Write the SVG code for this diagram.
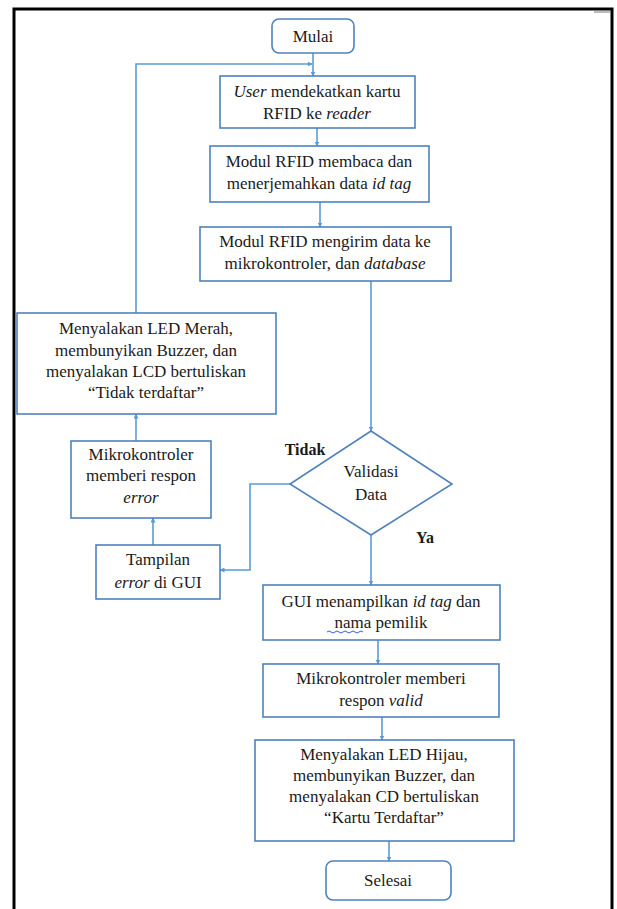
<svg xmlns="http://www.w3.org/2000/svg" width="617" height="909" viewBox="0 0 617 909">
<style>
.box{fill:#fff;stroke:#4F81BD;stroke-width:1.6}
.ln{fill:none;stroke:#5B9BD5;stroke-width:1.6}
.t{font-family:"Liberation Serif","Times New Roman",serif;font-size:17px;fill:#1a1a1a;text-anchor:middle}
.b{font-weight:bold;font-size:16px}
.i{font-style:italic}
</style>
<defs>
<marker id="ah" viewBox="0 0 10 10" refX="9" refY="5" markerWidth="5" markerHeight="5" orient="auto" markerUnits="userSpaceOnUse">
<path d="M0,0 L10,5 L0,10 z" fill="#5B9BD5"/>
</marker>
</defs>
<rect x="0" y="0" width="617" height="909" fill="#fff"/>
<path d="M14,909 V9 H612 V909" fill="none" stroke="#000" stroke-width="3"/>
<line x1="594" y1="12" x2="610" y2="12" stroke="#bbb" stroke-width="2"/>

<g id="connectors">
<line class="ln" x1="313" y1="53" x2="313" y2="76" marker-end="url(#ah)"/>
<polyline class="ln" points="136,313 136,64 312,64" marker-end="url(#ah)"/>
<line class="ln" x1="317" y1="128" x2="317" y2="146" marker-end="url(#ah)"/>
<line class="ln" x1="320" y1="202" x2="320" y2="227" marker-end="url(#ah)"/>
<line class="ln" x1="371" y1="281" x2="371" y2="431" marker-end="url(#ah)"/>
<polyline class="ln" points="290,484 250,484 250,570 220,570" marker-end="url(#ah)"/>
<line class="ln" x1="153" y1="545" x2="153" y2="518" marker-end="url(#ah)"/>
<line class="ln" x1="136" y1="441" x2="136" y2="414" marker-end="url(#ah)"/>
<line class="ln" x1="371" y1="535" x2="371" y2="585" marker-end="url(#ah)"/>
<line class="ln" x1="378" y1="640" x2="378" y2="664" marker-end="url(#ah)"/>
<line class="ln" x1="382" y1="717" x2="382" y2="740" marker-end="url(#ah)"/>
<line class="ln" x1="389" y1="841" x2="389" y2="861" marker-end="url(#ah)"/>
</g>

<g id="mulai">
<rect class="box" x="272" y="19" width="82" height="34" rx="7"/>
<text class="t" x="313" y="42">Mulai</text>
</g>
<g id="user">
<rect class="box" x="220" y="76" width="195" height="52"/>
<text class="t" x="317" y="97"><tspan class="i">User</tspan> mendekatkan kartu</text>
<text class="t" x="317" y="119">RFID ke <tspan class="i">reader</tspan></text>
</g>
<g id="baca">
<rect class="box" x="210" y="146" width="219" height="56"/>
<text class="t" x="319" y="167">Modul RFID membaca dan</text>
<text class="t" x="319" y="189">menerjemahkan data <tspan class="i">id tag</tspan></text>
</g>
<g id="kirim">
<rect class="box" x="200" y="227" width="251" height="54"/>
<text class="t" x="325" y="247">Modul RFID mengirim data ke</text>
<text class="t" x="325" y="269">mikrokontroler, dan <tspan class="i">database</tspan></text>
</g>
<g id="validasi">
<polygon class="box" points="371,431 452,484 371,535 290,484"/>
<text class="t" x="371" y="477">Validasi</text>
<text class="t" x="371" y="500">Data</text>
<text class="t b" x="305" y="455">Tidak</text>
<text class="t b" x="425" y="543">Ya</text>
</g>
<g id="merah">
<rect class="box" x="17" y="313" width="259" height="101"/>
<text class="t" x="146" y="334">Menyalakan LED Merah,</text>
<text class="t" x="146" y="356">membunyikan Buzzer, dan</text>
<text class="t" x="146" y="377">menyalakan LCD bertuliskan</text>
<text class="t" x="146" y="398">“Tidak terdaftar”</text>
</g>
<g id="error">
<rect class="box" x="71" y="441" width="140" height="77"/>
<text class="t" x="141" y="460">Mikrokontroler</text>
<text class="t" x="141" y="481">memberi respon</text>
<text class="t i" x="141" y="503">error</text>
</g>
<g id="tampilan">
<rect class="box" x="96" y="545" width="124" height="54"/>
<text class="t" x="158" y="565">Tampilan</text>
<text class="t" x="158" y="588"><tspan class="i">error</tspan> di GUI</text>
</g>
<g id="gui">
<rect class="box" x="263" y="585" width="237" height="55"/>
<text class="t" x="381" y="607">GUI menampilkan <tspan class="i">id tag</tspan> dan</text>
<text class="t" x="381" y="628">nama pemilik</text>
<path d="M327,632 q2,-2 4,0 t4,0 t4,0 t4,0 t4,0 t4,0 t4,0 t4,0 t4,0" fill="none" stroke="#3b5bdb" stroke-width="1"/>
</g>
<g id="valid">
<rect class="box" x="263" y="664" width="236" height="53"/>
<text class="t" x="381" y="684">Mikrokontroler memberi</text>
<text class="t" x="381" y="706">respon <tspan class="i">valid</tspan></text>
</g>
<g id="hijau">
<rect class="box" x="255" y="740" width="259" height="101"/>
<text class="t" x="384" y="760">Menyalakan LED Hijau,</text>
<text class="t" x="384" y="781">membunyikan Buzzer, dan</text>
<text class="t" x="384" y="802">menyalakan CD bertuliskan</text>
<text class="t" x="384" y="823">“Kartu Terdaftar”</text>
</g>
<g id="selesai">
<rect class="box" x="326" y="861" width="125" height="39" rx="7"/>
<text class="t" x="388" y="886">Selesai</text>
</g>
</svg>
